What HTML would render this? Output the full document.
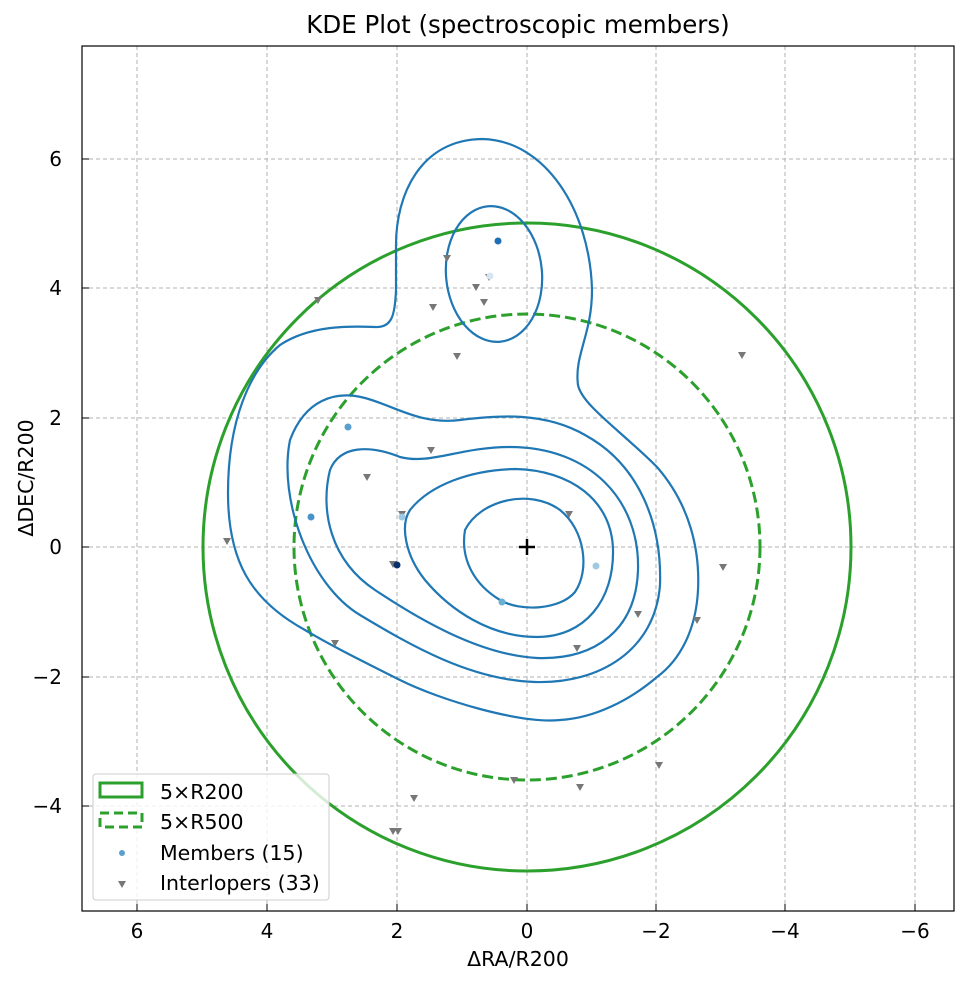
<!DOCTYPE html>
<html><head><meta charset="utf-8"><style>
body{margin:0;background:#fff;}
svg{display:block;font-family:"DejaVu Sans","Liberation Sans",sans-serif;}
</style></head><body>
<svg width="969" height="984" viewBox="0 0 969 984" xmlns="http://www.w3.org/2000/svg">
<rect width="969" height="984" fill="#fff"/>
<text x="518" y="33" font-size="24.5" text-anchor="middle" fill="#000">KDE Plot (spectroscopic members)</text>
<g stroke="#b0b0b0" stroke-width="1" stroke-dasharray="4,3" fill="none">
<line x1="137" y1="46" x2="137" y2="911"/><line x1="267" y1="46" x2="267" y2="911"/><line x1="397" y1="46" x2="397" y2="911"/><line x1="527" y1="46" x2="527" y2="911"/><line x1="656" y1="46" x2="656" y2="911"/><line x1="785" y1="46" x2="785" y2="911"/><line x1="915" y1="46" x2="915" y2="911"/>
<line x1="82" y1="159" x2="954" y2="159"/><line x1="82" y1="288" x2="954" y2="288"/><line x1="82" y1="418" x2="954" y2="418"/><line x1="82" y1="547" x2="954" y2="547"/><line x1="82" y1="677" x2="954" y2="677"/><line x1="82" y1="806" x2="954" y2="806"/>
</g>
<circle cx="527" cy="547" r="324" fill="none" stroke="#2ca02c" stroke-width="3"/>
<circle cx="527" cy="547" r="233" fill="none" stroke="#2ca02c" stroke-width="3" stroke-dasharray="11,5"/>
<g fill="none" stroke="#1f77b4" stroke-width="2.2">
<ellipse cx="494" cy="274" rx="48" ry="68" transform="rotate(-5 494 274)"/>
<path d="M 465,530 C 480,500 530,488 560,510 C 585,530 590,570 575,592 C 560,610 520,612 500,600 C 475,585 460,560 465,530 Z"/>
<path d="M 410,510 C 430,485 470,470 515,469 C 570,470 612,500 613,550 C 614,600 585,637 537,637 C 490,637 450,610 425,580 C 405,555 400,525 410,510 Z"/>
<path d="M 330,470 C 340,445 370,445 400,457 C 430,465 460,447 510,447 C 590,447 640,500 638,570 C 636,630 595,660 537,658 C 480,655 420,620 375,590 C 330,560 320,510 330,470 Z"/>
<path d="M 290,440 C 305,400 335,390 365,398 C 395,406 420,425 460,420 C 500,415 545,412 585,435 C 640,465 662,525 660,585 C 655,650 600,684 535,682 C 470,680 410,645 360,615 C 310,585 278,500 290,440 Z"/>
<path d="M 396,245 C 396,195 420,140 482,139 C 545,140 590,210 592,290 C 592,335 574,355 578,385 C 582,405 620,430 657,467 C 690,505 700,550 698,590 C 696,630 680,660 657,677 C 630,700 595,718 560,720 C 520,724 440,700 400,680 C 360,660 330,645 305,630 C 250,600 228,560 228,493 C 228,420 250,370 280,345 C 310,325 350,326 375,327 C 392,328 395,315 396,290 Z"/>
</g>
<g fill="#777">
<path d="M443,255 l8,0 l-4,7z"/><path d="M472,284 l8,0 l-4,7z"/><path d="M485,274 l8,0 l-4,7z"/><path d="M480,299 l8,0 l-4,7z"/><path d="M429,304 l8,0 l-4,7z"/><path d="M453,353 l8,0 l-4,7z"/><path d="M314,297 l8,0 l-4,7z"/><path d="M738,352 l8,0 l-4,7z"/><path d="M427,447 l8,0 l-4,7z"/><path d="M363,474 l8,0 l-4,7z"/><path d="M398,511 l8,0 l-4,7z"/><path d="M565,511 l8,0 l-4,7z"/><path d="M223,538 l8,0 l-4,7z"/><path d="M389,561 l8,0 l-4,7z"/><path d="M719,564 l8,0 l-4,7z"/><path d="M634,611 l8,0 l-4,7z"/><path d="M693,617 l8,0 l-4,7z"/><path d="M573,645 l8,0 l-4,7z"/><path d="M331,640 l8,0 l-4,7z"/><path d="M655,762 l8,0 l-4,7z"/><path d="M510,777 l8,0 l-4,7z"/><path d="M576,784 l8,0 l-4,7z"/><path d="M410,795 l8,0 l-4,7z"/><path d="M389,828 l8,0 l-4,7z"/><path d="M394,828 l8,0 l-4,7z"/>
</g>
<circle cx="498" cy="241" r="3.5" fill="#1f6fb4"/><circle cx="490" cy="276" r="3.5" fill="#d6e5f2"/><circle cx="348" cy="427" r="3.5" fill="#5a9fcf"/><circle cx="311" cy="517" r="3.5" fill="#4a93c9"/><circle cx="402" cy="517" r="3.5" fill="#9ccae3"/><circle cx="397" cy="565" r="3.5" fill="#08306b"/><circle cx="502" cy="602" r="3.5" fill="#6aaed6"/><circle cx="596" cy="566" r="3.5" fill="#9ecae1"/>
<g stroke="#000" stroke-width="2.5"><line x1="519" y1="547" x2="535" y2="547"/><line x1="527" y1="539" x2="527" y2="555"/></g>
<rect x="82" y="46" width="872" height="865" fill="none" stroke="#000" stroke-width="1.2"/>
<g stroke="#000" stroke-width="1">
<line x1="137" y1="911" x2="137" y2="904"/><line x1="267" y1="911" x2="267" y2="904"/><line x1="397" y1="911" x2="397" y2="904"/><line x1="527" y1="911" x2="527" y2="904"/><line x1="656" y1="911" x2="656" y2="904"/><line x1="785" y1="911" x2="785" y2="904"/><line x1="915" y1="911" x2="915" y2="904"/>
<line x1="82" y1="159" x2="89" y2="159"/><line x1="82" y1="288" x2="89" y2="288"/><line x1="82" y1="418" x2="89" y2="418"/><line x1="82" y1="547" x2="89" y2="547"/><line x1="82" y1="677" x2="89" y2="677"/><line x1="82" y1="806" x2="89" y2="806"/>
</g>
<g font-size="20" fill="#000" text-anchor="middle">
<text x="137" y="938">6</text><text x="267" y="938">4</text><text x="397" y="938">2</text><text x="527" y="938">0</text><text x="656" y="938">−2</text><text x="785" y="938">−4</text><text x="915" y="938">−6</text>
</g>
<g font-size="20" fill="#000" text-anchor="end">
<text x="62" y="166">6</text><text x="62" y="295">4</text><text x="62" y="425">2</text><text x="62" y="554">0</text><text x="62" y="684">−2</text><text x="62" y="813">−4</text>
</g>
<text x="518" y="966" font-size="20.5" text-anchor="middle">ΔRA/R200</text>
<text transform="translate(33,478) rotate(-90)" font-size="20.5" text-anchor="middle">ΔDEC/R200</text>
<rect x="93" y="774" width="236" height="126" rx="3" fill="#fff" fill-opacity="0.8" stroke="#ccc"/>
<rect x="100" y="783" width="42" height="14" fill="none" stroke="#2ca02c" stroke-width="3"/>
<rect x="100" y="813" width="42" height="14" fill="none" stroke="#2ca02c" stroke-width="3" stroke-dasharray="9,5"/>
<circle cx="122" cy="853" r="3" fill="#5a9fcf"/>
<path d="M118,881 l8,0 l-4,7z" fill="#777"/>
<g font-size="20.5" fill="#000">
<text x="160" y="799">5×R200</text><text x="160" y="829">5×R500</text><text x="160" y="860">Members (15)</text><text x="160" y="890">Interlopers (33)</text>
</g>
</svg>
</body></html>
